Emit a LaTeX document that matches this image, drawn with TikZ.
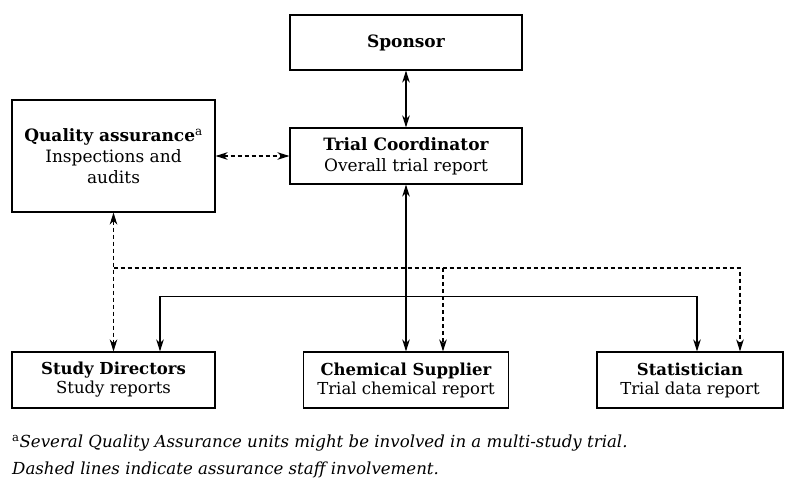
\documentclass[tikz,border=0pt]{standalone}
\usepackage{fontspec}
\setmainfont{DejaVu Serif}
\usetikzlibrary{arrows.meta}
\begin{document}
\begin{tikzpicture}[x=1pt,y=-1pt,
  box/.style={draw, line width=1.1pt, inner sep=0pt, align=center, font=\fontsize{17}{21}\selectfont},
  lbox/.style={box, font=\fontsize{16.5}{19}\selectfont},
  tip/.style={},
  conn/.style={line width=1.1pt, {Stealth[length=12pt,width=7.5pt,inset=3.5pt]}-{Stealth[length=12pt,width=7.5pt,inset=3.5pt]}},
  dconn/.style={conn, dash pattern=on 4pt off 3pt},
  one/.style={line width=1.1pt, -{Stealth[length=12pt,width=7.5pt,inset=3.5pt]}},
  done/.style={one, dash pattern=on 4pt off 3pt},
  note/.style={anchor=west, inner sep=0pt, font=\fontsize{16.6}{20}\selectfont\itshape}]
\useasboundingbox (0,0) rectangle (789,483);
\node[box, minimum width=232pt, minimum height=55pt] (sp) at (406,42.5) {\textbf{Sponsor}};
\node[box, minimum width=232pt, minimum height=56pt] (tc) at (406,156) {\textbf{Trial Coordinator}\\Overall trial report};
\node[box, minimum width=203pt, minimum height=112pt] (qa) at (113.5,156) {\textbf{Quality assurance}\textsuperscript{a}\\Inspections and\\audits};
\node[lbox, minimum width=203pt, minimum height=56pt] (sd) at (113.5,380) {\textbf{Study Directors}\\Study reports};
\node[lbox, minimum width=205pt, minimum height=56pt] (cs) at (406,380) {\textbf{Chemical Supplier}\\Trial chemical report};
\node[lbox, minimum width=186pt, minimum height=56pt] (st) at (690,380) {\textbf{Statistician}\\Trial data report};
\coordinate (dy) at (0,268);
\draw[conn] (sp.south) -- (tc.north);
\draw[dconn] (qa.east) -- (tc.west);
\draw[conn] (tc.south) -- (cs.north);
\draw[dconn] (qa.south) -- (sd.north);
\draw[done] (qa.south |- dy) -| ([xshift=50]st.north);
\draw[done] ([xshift=37]cs.north |- dy) -- ([xshift=37]cs.north);
\draw[conn] ([xshift=46.5]sd.north) -- ++(0,-55) -| ([xshift=7]st.north);
\node[note] (fn1) at (12,443) {\textsuperscript{\upshape a}Several Quality Assurance units might be involved in a multi-study trial.};
\node[note] (fn2) at (12,470) {Dashed lines indicate assurance staff involvement.};
\end{tikzpicture}
\end{document}
